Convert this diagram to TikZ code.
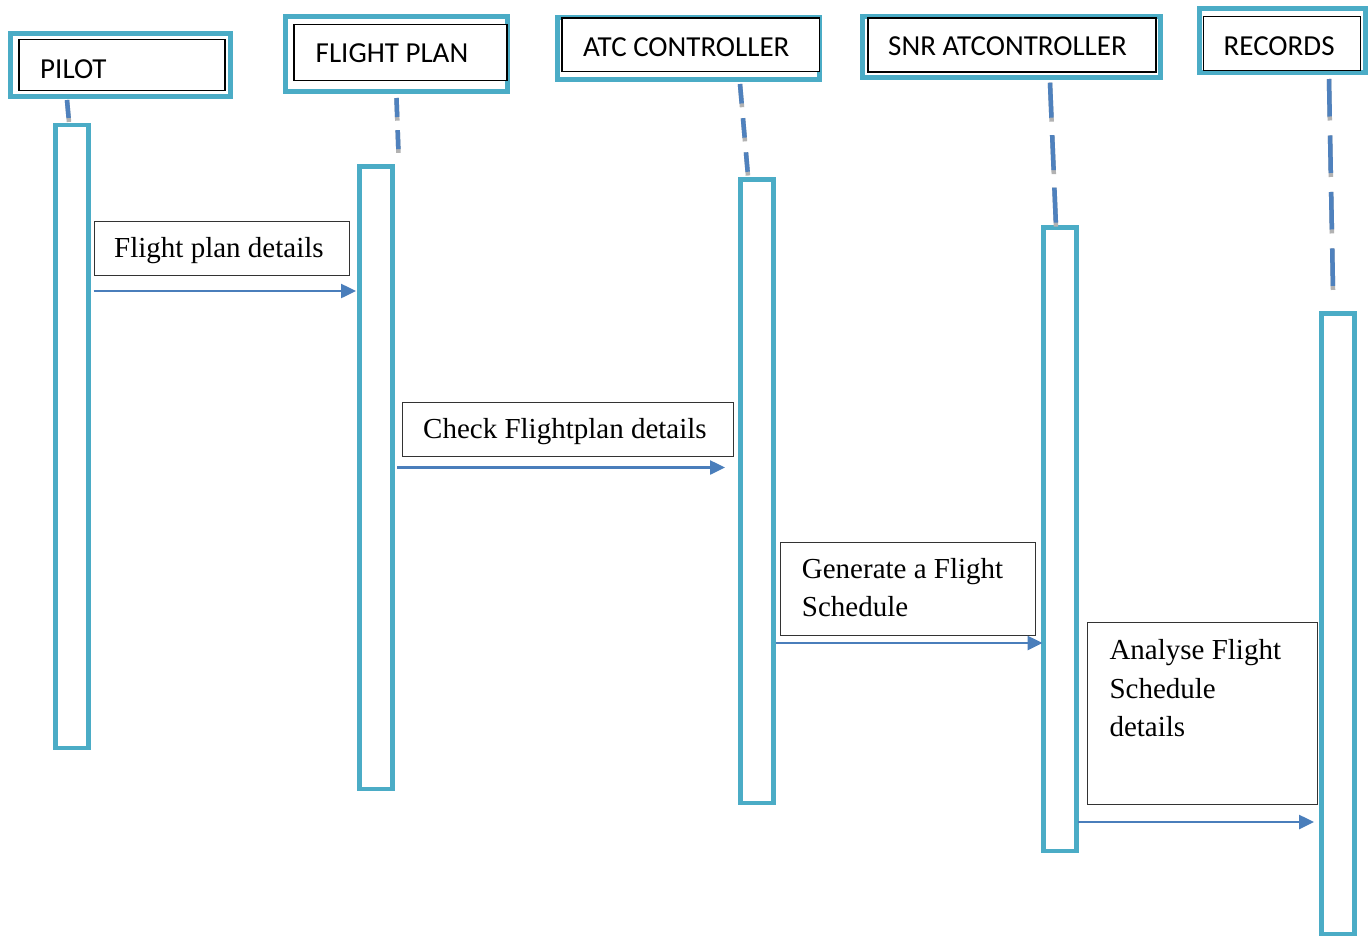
\documentclass[tikz,border=0pt]{standalone}
\usepackage{fontspec}
\newfontfamily\hdrfont{Carlito}
\newfontfamily\lblfont{Liberation Serif}
\usetikzlibrary{arrows.meta,calc}
\definecolor{framecyan}{HTML}{4BACC6}
\definecolor{lineblue}{HTML}{4A7EBB}
\definecolor{dashblue}{HTML}{4F81BD}
\begin{document}
\begin{tikzpicture}[x=1pt,y=-1pt,
  box/.style={rectangle, inner sep=0pt, outer sep=0pt},
  frame/.style={box, draw=framecyan, line width=5pt},
  titlebox/.style={box, draw=black, line width=1.3pt, fill=white},
  bar/.style={box, draw=framecyan, line width=4.5pt, fill=white},
  msgbox/.style={box, draw=black!80, line width=1pt},
  hdrtext/.style={inner sep=0pt, anchor=base west, font=\hdrfont\fontsize{29}{35}\selectfont},
  msgtext/.style={inner sep=0pt, anchor=base west, text width=220pt, align=flush left,
    font=\lblfont\fontsize{29}{38.7}\selectfont},
  msgarrow/.style={draw=lineblue, line width=2.5pt, -{Triangle[length=15pt,width=14pt]}},
  lifeline/.style n args={4}{line width=4.5pt, draw=gray!60, dash pattern=on #1 off #2,
    postaction={draw=dashblue, dash pattern=on #3 off #4}},
]
\fill[white] (0,0) rectangle (1370,937);
\useasboundingbox (0,0) rectangle (1370,937);

% participant headers
\node[frame, minimum width=220pt, minimum height=63pt] (pilotF) at (120,64.5) {};
\node[titlebox, minimum width=206pt, minimum height=51pt] (pilotB) at (122,65) {};
\node[hdrtext] (pilotT) at (40,78.3) {PILOT};

\node[frame, minimum width=222pt, minimum height=75pt] (planF) at (396.5,54) {};
\node[titlebox, minimum width=213pt, minimum height=56pt] (planB) at (400.5,52.5) {};
\node[hdrtext] (planT) at (315.5,62.3) {FLIGHT PLAN};

\node[frame, minimum width=262pt, minimum height=62pt] (atcF) at (688,48.5) {};
\node[titlebox, minimum width=257.5pt, minimum height=53.5pt] (atcB) at (690.75,44.75) {};
\node[hdrtext] (atcT) at (583,56.6) {ATC CONTROLLER};

\node[frame, minimum width=297.5pt, minimum height=61pt] (snrF) at (1011.25,46.5) {};
\node[titlebox, minimum width=288pt, minimum height=54pt] (snrB) at (1012,45) {};
\node[hdrtext] (snrT) at (888,55.5) {SNR ATCONTROLLER};

\node[frame, minimum width=166pt, minimum height=64pt] (recF) at (1282.5,40.5) {};
\node[titlebox, minimum width=157pt, minimum height=54pt] (recB) at (1282,43.5) {};
\node[hdrtext] (recT) at (1223.5,55) {RECORDS};

% activation bars
\node[bar, minimum width=33pt, minimum height=623pt] (b1) at (72,436.5) {};
\node[bar, minimum width=33pt, minimum height=622.5pt] (b2) at (376,477.75) {};
\node[bar, minimum width=33pt, minimum height=623.5pt] (b3) at (757,491.25) {};
\node[bar, minimum width=33pt, minimum height=623.5pt] (b4) at (1060,539.25) {};
\node[bar, minimum width=33pt, minimum height=620.5pt] (b5) at (1338,623.75) {};

% lifelines from headers down to bars
\coordinate (l1a) at (67,100);     \coordinate (l1b) at (69,122);
\coordinate (l2a) at (396.5,98);   \coordinate (l2b) at (398.5,153.3);
\coordinate (l3a) at (740,84);     \coordinate (l3b) at (748,176);
\coordinate (l4a) at (1050,82.7);  \coordinate (l4b) at (1056,226.7);
\coordinate (l5a) at (1329,79);    \coordinate (l5b) at (1333,290);
\draw[lifeline={22pt}{12pt}{18pt}{16pt}] (l1a) -- (l1b);
\draw[lifeline={22.7pt}{9.5pt}{19pt}{13.2pt}] (l2a) -- (l2b);
\draw[lifeline={23.3pt}{11pt}{19.5pt}{14.8pt}] (l3a) -- (l3b);
\draw[lifeline={39pt}{13.5pt}{35pt}{17.5pt}] (l4a) -- (l4b);
\draw[lifeline={41.5pt}{15pt}{37.5pt}{19pt}] (l5a) -- (l5b);

% message labels
\node[msgbox, minimum width=255.5pt, minimum height=54.7pt] (m1) at (221.75,248.35) {};
\node[msgtext] (m1t) at (114,257.7) {Flight plan details};

\node[msgbox, minimum width=330.3pt, minimum height=54.4pt] (m2) at (567.85,429.5) {};
\node[msgtext, text width=300pt] (m2t) at (423,438.3) {Check Flightplan details};

\node[msgbox, minimum width=255pt, minimum height=92.7pt] (m3) at (908.2,588.65) {};
\node[msgtext] (m3t) at (801.7,578) {Generate a Flight\\Schedule};

\node[msgbox, minimum width=229.6pt, minimum height=182.3pt] (m4) at (1202.5,713.15) {};
\node[msgtext, text width=200pt] (m4t) at (1109.3,659.3) {Analyse Flight\\Schedule\\details};

% messages
\draw[msgarrow] ($(b1.east |- 0,291)+(5,0)$) -- ($(b2.west |- 0,291)+(-3.5,0)$);
\draw[msgarrow] ($(b2.east |- 0,467.5)+(4.5,0)$) -- ($(b3.west |- 0,467.5)+(-15.5,0)$);
\draw[msgarrow] ($(b3.east |- 0,643)+(2,0)$) -- ($(b4.west |- 0,643)+(-1,0)$);
\draw[msgarrow] ($(b4.east |- 0,822)+(1.5,0)$) -- ($(b5.west |- 0,822)+(-7.5,0)$);
\end{tikzpicture}
\end{document}
